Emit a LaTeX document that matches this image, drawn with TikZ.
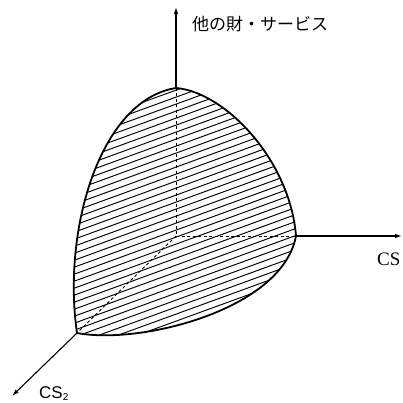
\documentclass[tikz,border=0pt]{standalone}
\usepackage{fontspec}
\newfontfamily\jpfont{Noto Sans CJK JP}
\newfontfamily\cserif{Liberation Serif}
\newfontfamily\csans{Liberation Sans}
\usetikzlibrary{arrows.meta}
\tikzset{
  axis/.style={line width=1.1pt,-{Latex[length=7pt,width=4.5pt]}},
  outline/.style={line width=1.8pt,line join=round},
  hatchline/.style={line width=0.95pt},
  hidden/.style={line width=0.9pt,dash pattern=on 3pt off 2.5pt},
}
\begin{document}
\begin{tikzpicture}[x=1pt,y=-1pt]
\useasboundingbox (0,0) rectangle (403,403);
\coordinate (O) at (176,236);
\coordinate (T) at (176,88);
\coordinate (R) at (296,236);
\coordinate (L) at (77,333);
\coordinate (Ytip) at (176,7);
\coordinate (Xtip) at (402,236);
\coordinate (Ztip) at (12,396);
% hatching
\begin{scope}
\clip (T) .. controls (225,92) and (290,160) .. (R)
      .. controls (282,310) and (140,345) .. (L)
      .. controls (62,230) and (100,100) .. (T) -- cycle;
\foreach \c in {80,87,...,560} \draw[hatchline] (50,\c) -- (320,\c-98.3);
\end{scope}
% hidden axes
\draw[hidden] (T) -- (O);
\draw[hidden] (O) -- (R);
\draw[hidden] (O) -- (L);
% outline
\draw[outline] (T) .. controls (225,92) and (290,160) .. (R)
      .. controls (282,310) and (140,345) .. (L)
      .. controls (62,230) and (100,100) .. (T) -- cycle;
% axes
\draw[axis] (T) -- (Ytip);
\draw[axis] (R) -- (Xtip);
\draw[axis] (L) -- (Ztip);
% labels
\node[anchor=west,inner sep=0pt,font=\jpfont\fontsize{17}{17}\selectfont] (ylab) at (192,24) {他の財・サービス};
\node[anchor=base west,inner sep=0pt,font=\cserif\fontsize{19}{19}\selectfont] (xlab) at (377,265) {CS};
\node[anchor=base west,inner sep=0pt,font=\csans\fontsize{17}{17}\selectfont] (zlab) at (39,398) {CS\raisebox{-0.25ex}{\fontsize{10}{10}\selectfont 2}};
\end{tikzpicture}
\end{document}
